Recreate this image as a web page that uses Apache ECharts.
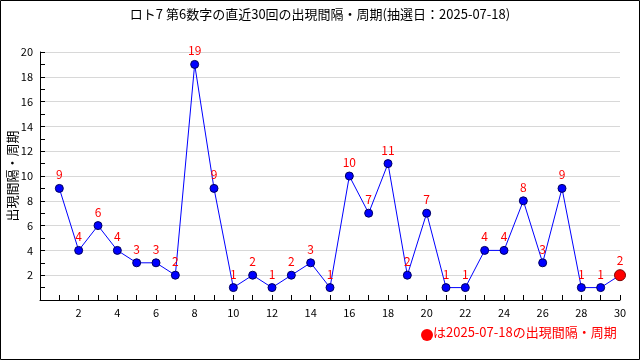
<!DOCTYPE html>
<html><head><meta charset="utf-8">
<script src="https://cdn.jsdelivr.net/npm/echarts@6/dist/echarts.min.js"></script>
<style>html,body{margin:0;padding:0;background:#fff}#c{width:640px;height:360px}</style>
</head><body><div id="c"></div>
<script>
const titleText = 'ロト7 第6数字の直近30回の出現間隔・周期(抽選日：2025-07-18)';
const yAxisName = '出現間隔・周期';
const legendText = 'は2025-07-18の出現間隔・周期';
const draws = [1,2,3,4,5,6,7,8,9,10,11,12,13,14,15,16,17,18,19,20,21,22,23,24,25,26,27,28,29,30];
const intervals = [9,4,6,4,3,3,2,19,9,1,2,1,2,3,1,10,7,11,2,7,1,1,4,4,8,3,9,1,1,2];

const font = '"Noto Sans CJK JP", sans-serif';
const pts = draws.map((d,i)=>{
  const last = i === draws.length-1;
  return {value:[d, intervals[i]],
    symbolSize: last ? 11 : 8,
    itemStyle: last ? {color:'#ff0000', borderColor:'#800000', borderWidth:1} : {color:'#0000ff', borderColor:'#000060', borderWidth:1}};
});
const chart = echarts.init(document.getElementById('c'));
chart.setOption({
  animation:false,
  backgroundColor:'#fff',
  title:{text:titleText, left:'center', top:3, textStyle:{fontFamily:font, fontSize:13, fontWeight:'normal', color:'#000'}},
  grid:{left:40, right:20, top:52, bottom:60, containLabel:false, outerBoundsMode:'none'},
  xAxis:{type:'value', min:0, max:30, interval:2,
    axisLine:{lineStyle:{color:'#000'}},
    axisTick:{inside:true, length:5, lineStyle:{color:'#000'}},
    minorTick:{show:true, splitNumber:2, length:5, lineStyle:{color:'#000'}},
    splitLine:{show:false},
    axisLabel:{color:'#000', fontSize:11, fontFamily:font, margin:7, formatter:v=>v===0?'':v}},
  yAxis:{type:'value', min:0, max:20, interval:2,
    name:yAxisName, nameLocation:'middle', nameRotate:90, nameGap:21, nameMoveOverlap:false,
    nameTextStyle:{fontFamily:font, fontSize:13, color:'#000'},
    axisLine:{show:true, lineStyle:{color:'#000'}},
    axisTick:{show:true, inside:true, length:5, lineStyle:{color:'#000'}},
    minorTick:{show:true, splitNumber:2, length:5, lineStyle:{color:'#000'}},
    splitLine:{show:true, lineStyle:{color:'#d8d8d8'}},
    axisLabel:{color:'#000', fontSize:11, fontFamily:font, margin:7, formatter:v=>v===0?'':v}},
  series:[{type:'line', data:pts, symbol:'circle',
    lineStyle:{color:'#0000ff', width:1},
    label:{show:true, position:'top', distance:3, color:'#ff0000', fontSize:12, fontFamily:font, formatter:p=>p.value[1]}}],
  graphic:[
    {type:'rect', shape:{x:0.5,y:0.5,width:639,height:359}, style:{fill:'none', stroke:'#000', lineWidth:1}, z:100},
    {type:'circle', shape:{cx:427, cy:335, r:6}, style:{fill:'#ff0000'}},
    {type:'text', left:433, top:326, style:{text:legendText, fill:'#ff0000', font:'13px "Noto Sans CJK JP", sans-serif'}}
  ]
});
</script></body></html>
